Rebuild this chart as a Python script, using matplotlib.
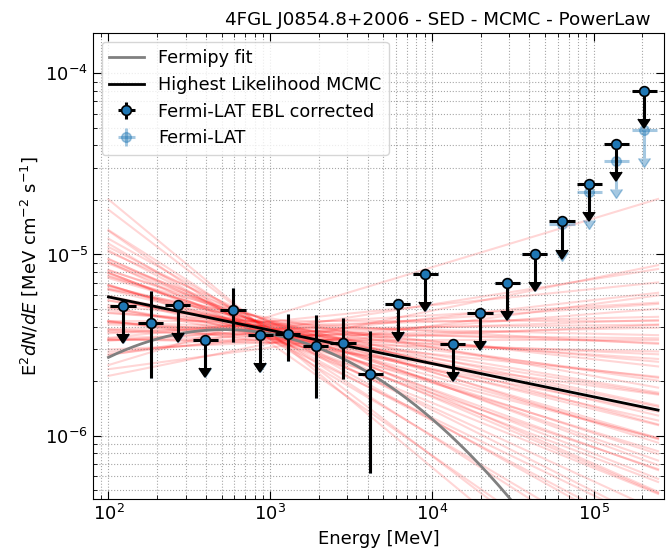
import numpy as np
import matplotlib
matplotlib.use("Agg")
from matplotlib import pyplot as plt

# SED points (EBL corrected)
energy = [123, 182, 268, 396, 589, 870, 1282, 1910, 2814, 4154,
          6150, 9080, 13440, 19840, 29240, 43110, 63630, 93800, 138300, 205000]
flux_ebl = [5.18e-6, 4.19e-6, 5.23e-6, 3.39e-6, 4.92e-6, 3.58e-6, 3.64e-6, 3.13e-6, 3.26e-6, 2.20e-6,
            5.36e-6, 7.78e-6, 3.21e-6, 4.76e-6, 6.92e-6, 1.008e-5, 1.522e-5, 2.455e-5, 4.08e-5, 8.01e-5]
flux_lat = [5.18e-6, 4.19e-6, 5.23e-6, 3.39e-6, 4.92e-6, 3.58e-6, 3.64e-6, 3.13e-6, 3.26e-6, 2.20e-6,
            5.36e-6, 7.78e-6, 3.21e-6, 4.76e-6, 6.92e-6, 1.005e-5, 1.47e-5, 2.22e-5, 3.28e-5, 4.86e-5]
flux_top = [None, 6.27e-6, None, None, 6.54e-6, None, 4.72e-6, 4.62e-6, 4.46e-6, 3.78e-6,
            None, None, None, None, None, None, None, None, None, None]
flux_bottom = [None, 2.08e-6, None, None, 3.29e-6, None, 2.57e-6, 1.61e-6, 2.06e-6, 6.2e-7,
               None, None, None, None, None, None, None, None, None, None]
is_ul = [True, False, True, True, False, True, False, False, False, False,
         True, True, True, True, True, True, True, True, True, True]
bin_halfwidth_dex = 0.078

# Fermipy LogParabola fit (E0 = 1 GeV), E^2 dN/dE at E0
lp_e0 = 1000.0
lp_flux_e0 = 3.64e-6
lp_alpha = 2.17
lp_beta = 0.13

# Highest likelihood MCMC power law
best_flux_100 = 5.83e-6
best_index = 2.184

# MCMC samples: photon index and log10 E^2dN/dE at 1300 MeV
mcmc_pivot = 1300.0
mcmc_index = [1.73, 1.82, 1.86, 1.88, 1.90, 1.91, 1.93, 1.94,
              1.95, 1.96, 1.97, 1.98, 1.98, 1.99, 2.00, 2.00, 2.01, 2.02, 2.02, 2.03, 2.04, 2.05,
              2.06, 2.08, 2.09, 2.10, 2.11, 2.12, 2.13, 2.14, 2.15, 2.16, 2.17, 2.18, 2.19, 2.20,
              2.21, 2.22, 2.23, 2.24, 2.25, 2.26, 2.27, 2.28, 2.29, 2.30, 2.31, 2.32, 2.33, 2.34,
              2.35, 2.36, 2.38, 2.39, 2.41, 2.43, 2.45, 2.47, 2.50, 2.53, 2.57, 2.62, 2.68, 2.74]
mcmc_logflux = [-5.31, -5.47, -5.40, -5.50, -5.44, -5.36, -5.46, -5.41,
                -5.38, -5.48, -5.43, -5.39, -5.45, -5.41, -5.47, -5.37, -5.44, -5.40, -5.49, -5.42, -5.46, -5.38,
                -5.44, -5.41, -5.47, -5.39, -5.43, -5.50, -5.40, -5.45, -5.42, -5.37, -5.48, -5.43, -5.40, -5.46,
                -5.41, -5.44, -5.49, -5.39, -5.45, -5.42, -5.47, -5.40, -5.44, -5.50, -5.43, -5.46, -5.41, -5.48,
                -5.44, -5.50, -5.45, -5.42, -5.48, -5.52, -5.46, -5.50, -5.47, -5.53, -5.50, -5.56, -5.51, -5.52]

e_min, e_max = 100.0, 2.5e5

plt.rcParams['font.size'] = 13
fig = plt.figure(figsize=(6.67, 5.52), dpi=100)
ax = fig.add_axes([0.1394, 0.096, 0.8561, 0.844])

egrid = np.logspace(np.log10(e_min), np.log10(e_max), 200)

for g, lf in zip(mcmc_index, mcmc_logflux):
    ax.plot(egrid, 10**lf * (egrid / mcmc_pivot)**(2 - g), color='red', alpha=0.16, lw=1.5, zorder=1)

x = np.log(egrid / lp_e0)
gray_line, = ax.plot(egrid, lp_flux_e0 * (egrid / lp_e0)**(2 - lp_alpha - lp_beta * x),
                     color='gray', lw=2, zorder=2)
black_line, = ax.plot(egrid, best_flux_100 * (egrid / 100.0)**(2 - best_index),
                      color='black', lw=2, zorder=3)

energy = np.array(energy)
xerr = [energy * (1 - 10**-bin_halfwidth_dex), energy * (10**bin_halfwidth_dex - 1)]


def yerrs(flux):
    flux = np.array(flux)
    lo, hi = [], []
    for f, t, b, ul in zip(flux, flux_top, flux_bottom, is_ul):
        if ul:
            lo.append(0.3 * f)
            hi.append(0.3 * f)
        else:
            lo.append(f - b)
            hi.append(t - f)
    return flux, [lo, hi]


lat_style = dict(fmt='o', color='#1f77b4', alpha=0.4, ms=7, elinewidth=2.2)
ebl_style = dict(fmt='o', color='#1f77b4', mec='black', mew=1.2, ecolor='black', ms=7, elinewidth=2.2)

f_lat, err_lat = yerrs(flux_lat)
eb_lat = ax.errorbar(energy, f_lat, xerr=xerr, yerr=err_lat, uplims=is_ul, zorder=4, **lat_style)
f_ebl, err_ebl = yerrs(flux_ebl)
eb_ebl = ax.errorbar(energy, f_ebl, xerr=xerr, yerr=err_ebl, uplims=is_ul, zorder=5, **ebl_style)
for cl in eb_lat[1]:
    cl.set_markersize(9)
for cl in eb_ebl[1]:
    cl.set_markersize(9)
    cl.set_markerfacecolor('black')
    cl.set_markeredgecolor('black')

# legend proxies (no caps)
leg_ebl = ax.errorbar([np.nan], [np.nan], xerr=[1], yerr=[1], **ebl_style)
leg_lat = ax.errorbar([np.nan], [np.nan], xerr=[1], yerr=[1], **lat_style)

ax.set_xscale('log')
ax.set_yscale('log')
ax.set_xlim(80.2, 2.72e5)
ax.set_ylim(4.46e-7, 1.67e-4)
ax.grid(True, which='both', ls=':', color='gray', alpha=0.7)
ax.tick_params(which='both', direction='in', top=True, right=True)
ax.tick_params(which='major', length=6)
ax.tick_params(which='minor', length=3)
ax.set_xlabel('Energy [MeV]')
ax.set_ylabel(r'E$^2dN/dE$ [MeV cm$^{-2}$ s$^{-1}$]')
ax.set_title('4FGL J0854.8+2006 - SED - MCMC - PowerLaw', fontsize=13.2, x=0.603)

ax.legend([gray_line, black_line, leg_ebl, leg_lat],
          ['Fermipy fit', 'Highest Likelihood MCMC', 'Fermi-LAT EBL corrected', 'Fermi-LAT'],
          loc='upper left', fontsize=12.7)

fig.savefig('out.png', dpi=100)
